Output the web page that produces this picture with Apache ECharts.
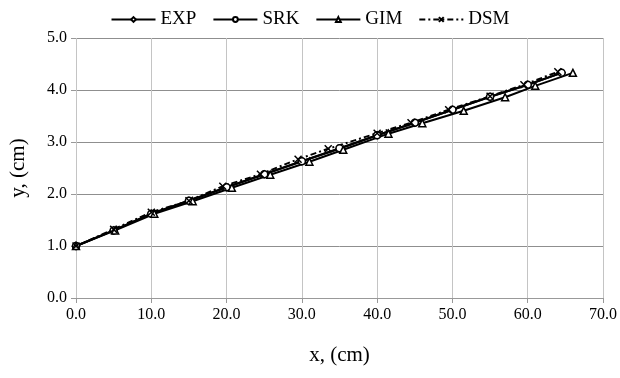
<!DOCTYPE html>
<html><head><meta charset="utf-8">
<script src="https://cdn.jsdelivr.net/npm/echarts@6/dist/echarts.min.js"></script>
<style>html,body{margin:0;padding:0;background:#fff}#c{width:620px;height:378px}</style>
</head><body><div id="c"></div>
<script>
var seriesNames = ['EXP', 'SRK', 'GIM', 'DSM'];
var expX = [0, 5, 10, 15, 20, 25, 30, 35, 40, 45, 50, 55, 60, 64.5];
var expY = [1.0, 1.3, 1.62, 1.87, 2.13, 2.38, 2.63, 2.87, 3.13, 3.37, 3.62, 3.87, 4.1, 4.33];
var srkX = [0, 5, 10, 15, 20, 25, 30, 35, 40, 45, 50, 55, 60, 64.5];
var srkY = [1.0, 1.3, 1.62, 1.87, 2.13, 2.38, 2.63, 2.88, 3.13, 3.37, 3.62, 3.87, 4.1, 4.33];
var gimX = [0, 5.2, 10.4, 15.5, 20.7, 25.8, 31, 35.5, 41.5, 46, 51.5, 57, 61, 66];
var gimY = [1.0, 1.3, 1.62, 1.86, 2.12, 2.37, 2.62, 2.85, 3.16, 3.36, 3.6, 3.86, 4.08, 4.33];
var dsmX = [0, 5, 10, 15, 19.5, 24.5, 29.5, 33.5, 40, 44.5, 49.5, 55, 59.5, 64];
var dsmY = [1.0, 1.32, 1.65, 1.87, 2.15, 2.38, 2.67, 2.87, 3.17, 3.37, 3.62, 3.88, 4.1, 4.35];
var xTicks = ['0.0','10.0','20.0','30.0','40.0','50.0','60.0','70.0'];

function pairs(xs, ys){ return xs.map(function(x,i){ return [x, ys[i]]; }); }
var crossPath = 'path://M0,0 L10,10 M10,0 L0,10';
var font = '"Liberation Serif", "Times New Roman", serif';

function mk(name, xs, ys, symbol, lineType){
  return {
    name: name, type: 'line', data: pairs(xs, ys),
    symbol: symbol, symbolSize: 7,
    lineStyle: {color: '#000', width: 2, type: lineType || 'solid'},
    itemStyle: {color: '#fff', borderColor: '#000', borderWidth: 1.5},
    emphasis: {disabled: true}, animation: false
  };
}

var chart = echarts.init(document.getElementById('c'));
chart.setOption({
  animation: false,
  textStyle: {fontFamily: font},
  legend: {
    top: 5, left: 'center', itemWidth: 44, itemHeight: 6, itemGap: 16,
    textStyle: {fontFamily: font, fontSize: 19, color: '#000'},
    data: seriesNames
  },
  grid: {left: 72, right: 8, top: 38, bottom: 80, containLabel: false},
  xAxis: {
    type: 'value', min: 0, max: 70, interval: 10,
    name: 'x, (cm)', nameLocation: 'middle', nameGap: 47,
    nameTextStyle: {fontFamily: font, fontSize: 21, color: '#000'},
    axisLine: {show: true, lineStyle: {color: '#999', width: 1}},
    axisTick: {show: true, length: 5, lineStyle: {color: '#999'}},
    axisLabel: {fontFamily: font, fontSize: 16, color: '#000', margin: 9,
      formatter: function(v){ return xTicks[Math.round(v/10)]; }},
    splitLine: {show: true, lineStyle: {color: '#c4c4c4', width: 1}}
  },
  yAxis: {
    type: 'value', min: 0, max: 5, interval: 1,
    name: 'y, (cm)', nameLocation: 'middle', nameGap: 47,
    nameTextStyle: {fontFamily: font, fontSize: 21, color: '#000'},
    axisLine: {show: false},
    axisTick: {show: true, length: 5, lineStyle: {color: '#999'}},
    axisLabel: {fontFamily: font, fontSize: 16, color: '#000', margin: 9,
      formatter: function(v){ return v.toFixed(1); }},
    splitLine: {show: true, lineStyle: {color: '#8f8f8f', width: 1}}
  },
  series: [
    mk('EXP', expX, expY, 'diamond'),
    mk('SRK', srkX, srkY, 'circle'),
    mk('GIM', gimX, gimY, 'triangle'),
    mk('DSM', dsmX, dsmY, crossPath, [6, 3, 2, 3])
  ]
});
</script></body></html>
